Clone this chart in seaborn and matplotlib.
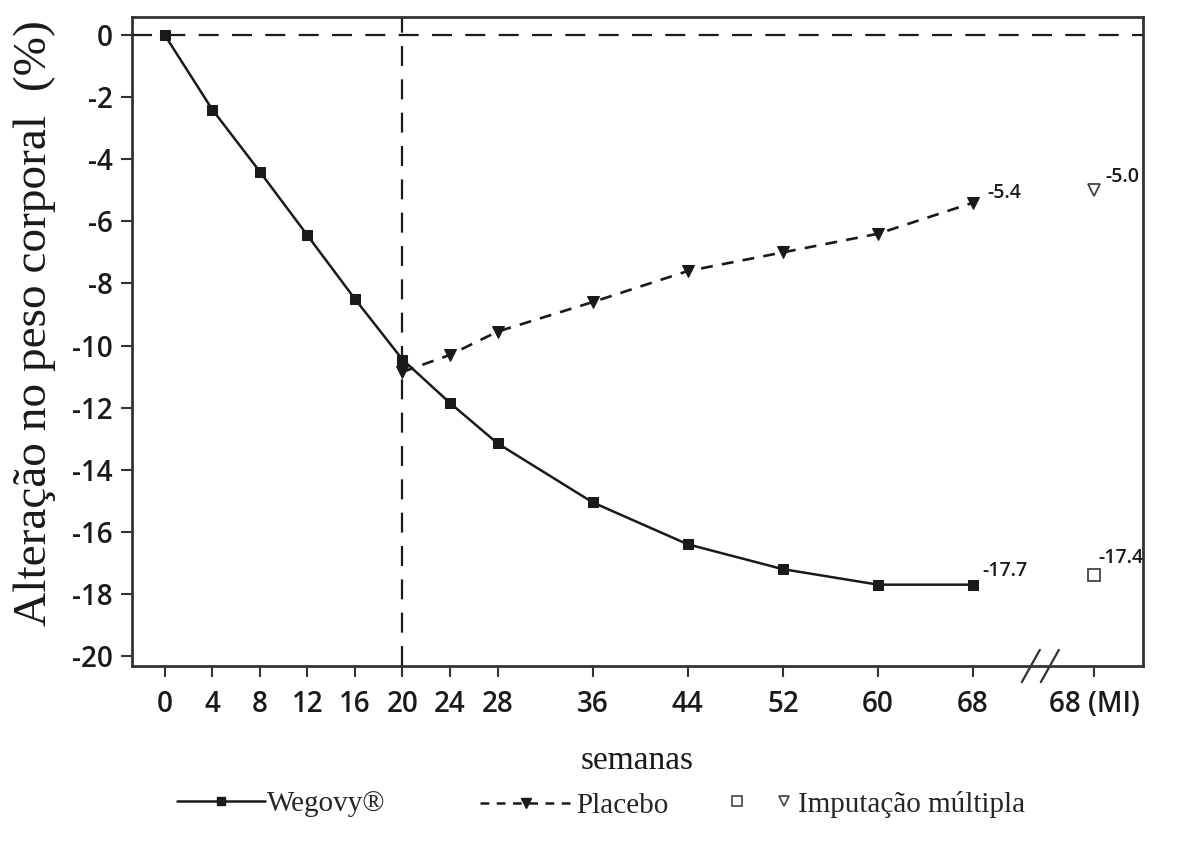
import matplotlib
matplotlib.use("Agg")
import matplotlib.pyplot as plt
import seaborn as sns
import pandas as pd
from matplotlib.lines import Line2D
from matplotlib.legend_handler import HandlerTuple

# ---- data ----
weeks_wegovy = [0, 4, 8, 12, 16, 20, 24, 28, 36, 44, 52, 60, 68]
wegovy = [0.0, -2.4, -4.4, -6.45, -8.5, -10.45, -11.85, -13.15, -15.05, -16.4, -17.2, -17.7, -17.7]
weeks_placebo = [20, 24, 28, 36, 44, 52, 60, 68]
placebo = [-10.85, -10.3, -9.55, -8.6, -7.6, -7.0, -6.4, -5.4]
mi_week = 78.2           # position of the "68 (MI)" category
mi_wegovy = -17.4
mi_placebo = -5.0
xtick_pos = [0, 4, 8, 12, 16, 20, 24, 28, 36, 44, 52, 60, 68, 78.2]
xtick_labels = ["0", "4", "8", "12", "16", "20", "24", "28", "36", "44", "52", "60", "68", "68 (MI)"]
ytick_pos = [0, -2, -4, -6, -8, -10, -12, -14, -16, -18, -20]

sns.set_theme(style="white")
plt.rcParams["font.family"] = ["Open Sans", "DejaVu Sans"]

fig = plt.figure(figsize=(11.78, 8.42), dpi=100)
ax = fig.add_axes([0.1121, 0.2090, 0.8582, 0.7708])

df_w = pd.DataFrame({"week": weeks_wegovy, "val": wegovy})
df_p = pd.DataFrame({"week": weeks_placebo, "val": placebo})

ink = "#1a1a1a"
sns.lineplot(data=df_w, x="week", y="val", ax=ax, color=ink, lw=1.8,
             marker="s", markersize=7, markeredgecolor=ink, markerfacecolor=ink)
sns.lineplot(data=df_p, x="week", y="val", ax=ax, color=ink, lw=1.9,
             marker="v", markersize=8, markeredgecolor=ink, markerfacecolor=ink)
ax.lines[-1].set_linestyle((0, (4.5, 3.5)))

# multiple imputation points
ax.plot([mi_week], [mi_wegovy], marker="s", ms=8, mfc="white", mec="#444444", mew=1.3, ls="none")
ax.plot([mi_week], [mi_placebo], marker="v", ms=9, mfc="white", mec="#444444", mew=1.3, ls="none")

# reference lines
ax.axhline(0, color=ink, lw=1.6, ls=(0, (9, 6)), zorder=1)
ax.axvline(20, color=ink, lw=1.6, ls=(0, (9, 6)), zorder=1)

# value labels
lab_kw = dict(fontsize=14, color=ink, weight="semibold", family=["Open Sans", "DejaVu Sans"])
ax.text(68 + 1.2, placebo[-1] + 0.3, "-5.4", ha="left", va="center", **lab_kw)
ax.text(mi_week + 0.9, mi_placebo + 0.42, "-5.0", ha="left", va="center", **lab_kw)
ax.text(68 + 0.8, wegovy[-1] + 0.44, "-17.7", ha="left", va="center", **lab_kw)
ax.text(mi_week + 0.35, mi_wegovy + 0.56, "-17.4", ha="left", va="center", **lab_kw)

ax.set_xlim(-2.75, 82.3)
ax.set_ylim(-20.32, 0.58)
ax.set_xticks(xtick_pos)
ax.set_xticklabels(xtick_labels)
ax.set_yticks(ytick_pos)
ax.set_yticklabels([str(v) for v in ytick_pos])
ax.tick_params(axis="both", which="both", direction="out", length=8, width=1.5,
               color="#333333", labelsize=20, labelcolor=ink, pad=6)
ax.tick_params(axis="x", bottom=True, pad=9)
ax.tick_params(axis="y", left=True)
for lbl in ax.get_xticklabels() + ax.get_yticklabels():
    lbl.set_fontweight("semibold")
for s in ax.spines.values():
    s.set_visible(True)
    s.set_color("#333333")
    s.set_linewidth(2)

ax.set_xlabel("semanas", family=["Liberation Serif", "DejaVu Serif"], fontsize=24,
              color=ink, labelpad=19)
ax.set_ylabel("Alteração no peso corporal  (%)", family=["Liberation Serif", "DejaVu Serif"],
              fontsize=34, color=ink)
ax.yaxis.set_label_coords(-0.075, 0.528)

# axis break marks
for bx in (72.86, 74.46):
    ax.plot([bx - 0.76, bx + 0.76], [-20.32 - 0.52, -20.32 + 0.52],
            color="#333333", lw=1.6, clip_on=False, zorder=5)

# legend
h_w = Line2D([], [], color=ink, lw=1.8, marker="s", ms=6, mfc=ink, mec=ink)
h_p = Line2D([], [], color=ink, lw=1.8, marker="v", ms=7, mfc=ink, mec=ink, ls=(0, (3.5, 3)))
h_ms = Line2D([], [], ls="none", marker="s", ms=7, mfc="white", mec="#444444", mew=1.2)
h_mt = Line2D([], [], ls="none", marker="v", ms=7, mfc="white", mec="#444444", mew=1.2)
leg_font = {"family": ["Liberation Serif", "DejaVu Serif"], "size": 21}
fig.legend([h_w], ["Wegovy®"], loc="center left", bbox_to_anchor=(0.128, 0.045),
           frameon=False, prop=leg_font, handlelength=3.0, handletextpad=0.1)
fig.legend([h_p], ["Placebo"], loc="center left", bbox_to_anchor=(0.385, 0.043),
           frameon=False, prop=leg_font, handlelength=3.2, handletextpad=0.1)
fig.legend([(h_ms, h_mt)], ["Imputação múltipla"], loc="center left",
           bbox_to_anchor=(0.596, 0.045), frameon=False, prop=leg_font,
           handler_map={tuple: HandlerTuple(ndivide=None, pad=1.0)},
           handlelength=2.2, handletextpad=0.2)

fig.savefig("out.png", dpi=100, facecolor="white")
